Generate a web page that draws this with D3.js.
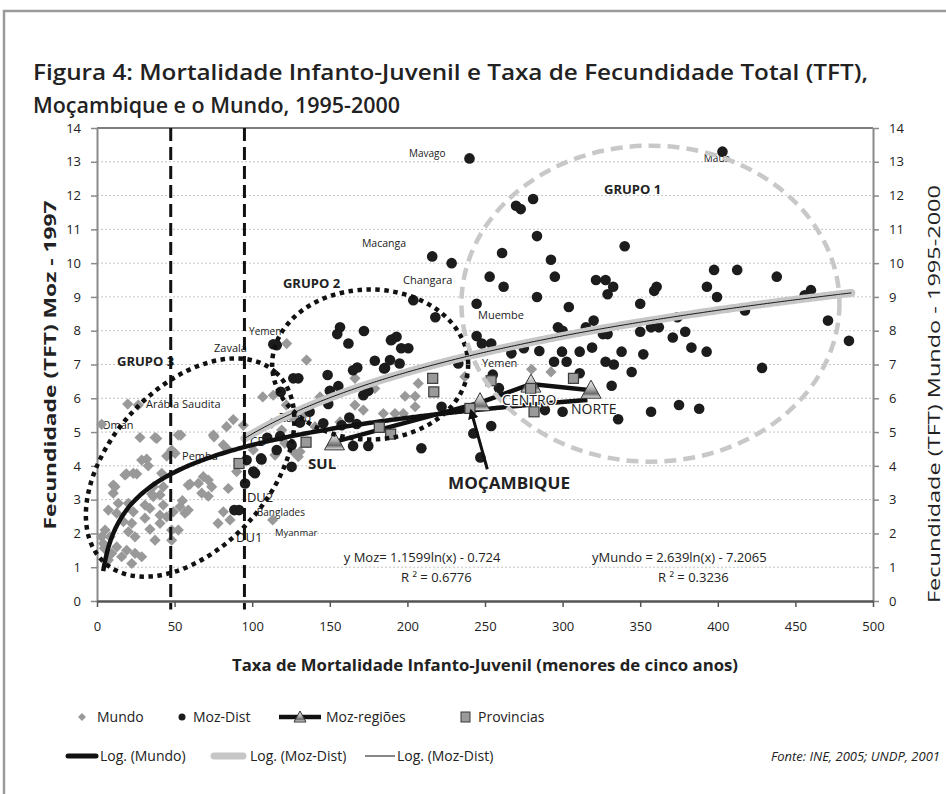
<!DOCTYPE html>
<html>
<head>
<meta charset="utf-8">
<script src="https://cdnjs.cloudflare.com/ajax/libs/d3/7.8.5/d3.min.js"></script>
<style>
body { margin: 0; background: #fff; }
svg text { font-family: "Open Sans", sans-serif; fill: #222; }
</style>
</head>
<body>
<svg id="chart" width="946" height="794"></svg>
<script>
// Mortalidade (x) vs TFT (y)
const mundo = [
  [19.8,5.83],[26.6,5.8],[27.7,4.84],[37.4,4.84],[54,4.91],[75.4,4.86],[83.5,5.16],[87.8,5.37],[81.4,4.62],[106.8,6.04],
  [28.8,4.17],[32,4.2],[33,4.0],[44.9,4.29],[50.3,4.37],[19,3.76],[25.6,3.76],[41.7,3.78],[10.5,3.43],[10.5,3.19],
  [35.2,3.17],[40.6,3.14],[60,3.46],[67.5,3.19],[71.7,3.58],[73.9,3.38],[71.7,3.1],[55,2.97],[56.7,2.6],[7.3,2.69],
  [13.7,2.89],[20.2,2.89],[12.7,2.6],[23.4,2.64],[30.9,2.84],[34.1,2.74],[42.7,2.84],[40.6,2.54],[44.9,2.49],[49.2,2.64],
  [30.9,2.45],[17,2.35],[22.4,2.3],[5.2,2.1],[8.4,1.9],[20.2,2.05],[24.5,1.9],[34.1,2.12],[37.4,1.8],[40.6,2.3],
  [48.1,1.8],[4.1,1.7],[12.7,1.6],[19.1,1.5],[24.5,1.41],[28.8,1.31],[15.9,1.31],[9.5,1.41],[7.3,1.21],[22.4,1.11],
  [4.7,1.56],[3,1.9],[48.1,2.1],[52.4,2.1],[58.8,2.69],[81.4,2.64],[85.7,2.4],[78,2.3],[48.1,4.47],[42.7,3.38],[36.3,3.38],
  [38.5,4.81],[52.4,4.91],[47,4.37],[75,4.91],[68.5,3.68],[65.3,3.48],[58.8,3.43],[18,3.73],[23.4,3.78],[11.6,3.38],
  [36.3,3.09],[53.5,2.79],[90,3.83],[84.6,3.33],[113.2,2.4],[113.6,6.09],[122,5.8],[127.6,5.55],[112.6,5.26],[119,5.06],
  [130.8,4.42],[121,4.67],[114.7,4.32],[83.5,4.52],[122.2,7.62],[135,7.13],[126.5,5.4],[134,5.55],[143.7,6.04],[156.6,5.3],
  [140.5,5.16],[126.5,4.42],[129.7,4.27],[166.2,6.59],[166.2,5.8],[171.6,5.65],[179,6.29],[184.5,5.55],[192,5.55],[197.4,5.55],
  [198.5,6.06],[205,6.06],[207,6.44],[205,5.75],[94.3,5.2],[100.7,4.47],[280,6.86],[292.5,6.78],[237,6.64],[3,5.23]
];

const mozDist = [
  [240,13.1],[403,13.3],
  [281,11.9],[270,11.7],[273,11.6],[283.5,10.8],[340,10.5],
  [261,10.3],[216,10.2],[228.5,10.0],[292.5,10.1],
  [253,9.6],[262,9.3],[295,9.6],[321.5,9.5],[327.7,9.5],[332.6,9.3],[329,9.08],
  [397.6,9.8],[412.5,9.8],[438,9.6],[393,9.3],[399.5,9.0],[360.6,9.3],[359,9.18],[350,8.8],
  [460,9.2],[456,9.05],[471,8.3],[484.5,7.7],[417.5,8.6],[374,8.4],
  [329,7.9],[350,7.97],[357,8.1],[362,8.1],[371,7.8],[379,7.97],[383,7.5],[392.8,7.38],
  [338,7.38],[352,7.3],[327.7,7.08],[333,7.0],[344.5,6.78],[428.5,6.9],[331.6,6.37],
  [335.8,5.38],[357,5.6],[375,5.8],[388,5.69],
  [283.5,9.0],[244.6,8.8],[304,8.7],[297,8.1],[300,8.0],[315,8.1],[320,8.3],[326,7.9],
  [244.6,7.84],[248,7.62],[254,7.62],[267,7.33],[275,7.48],[285,7.4],[299.6,7.38],[311,7.38],[319,7.5],
  [294.5,7.08],[302.6,7.08],[311,6.74],[255,6.7],[259,6.3],[288.6,5.65],[300,5.6],[254,5.18],[222,5.75],[218,8.4],
  [242.5,4.96],[247,4.25],
  [203.8,8.9],[190,7.74],[193,7.82],[196,7.48],[200.6,7.48],[185.6,6.9],[188.8,7.13],[195,7.03],[232.8,7.03],
  [156.6,8.1],[154.8,7.9],[172,7.99],[162,7.62],[189.4,7.72],[113.6,7.6],[115.8,7.57],
  [126.5,6.59],[129.7,6.59],[118.4,6.19],[150,6.22],[155.5,6.36],[165,6.83],[167.7,6.91],[179,7.11],[185,6.88],
  [171.6,6.09],[174.8,6.22],[149,5.83],[162.6,5.43],[157.6,5.2],[167.3,5.24],[145.8,5.26],[130.8,5.28],[137,5.6],
  [118,4.88],[125.4,4.62],[109.7,4.83],[106,4.19],[115.8,4.47],[125.4,3.97],[100.7,3.83],[96.4,4.17],[95.4,3.48],
  [165,4.59],[174.8,4.59],[209,4.52],[148.6,6.69],[101.8,3.78],[88.5,2.69],[91.5,2.69],[105.7,4.22]
];

const provincias = [
  [216.3,6.59],[217,6.19],[253.9,6.52],[279.4,6.29],[307,6.59],[281.6,5.6],[240.3,5.7],
  [181.9,5.14],[189.2,4.94],[134.7,4.7],[91.5,4.07]
];

const regioes = [
  {name: 'SUL', x: 153, y: 4.71},
  {name: 'MOÇAMBIQUE', x: 246.8, y: 5.87},
  {name: 'CENTRO', x: 279.6, y: 6.42},
  {name: 'NORTE', x: 318.3, y: 6.24}
];

// log trendlines (coefficients as printed on the chart)
const fitMundo = {a: 1.1599, b: -0.724, from: 4, to: 316};
const fitMozDist = {a: 2.639, b: -7.2065, from: 95, to: 486};

const xTicks = d3.range(0, 501, 50);
const yTicks = d3.range(0, 15);
const cutoffs = [47.5, 95];

const groups = [
  {name: 'GRUPO 3', cx: 60, cy: 3.95, rx: 128, ry: 80, rot: -48, color: '#111', dash: '4.5,4.5'},
  {name: 'GRUPO 2', cx: 176, cy: 7.0, rx: 98, ry: 75, rot: 0, color: '#111', dash: '4.5,4.5'},
  {name: 'GRUPO 1', cx: 356.6, cy: 8.8, rx: 189, ry: 158, rot: 0, color: '#c8c8c8', dash: '12,7'}
];

const labels = [
  {t: 'Mavago', x: 201, y: 13.14, s: 10},
  {t: 'Maua', x: 391, y: 13.0, s: 10},
  {t: 'Macanga', x: 170.7, y: 10.47, s: 10.5},
  {t: 'Changara', x: 197.2, y: 9.38, s: 11},
  {t: 'Muembe', x: 245.5, y: 8.34, s: 11},
  {t: 'Yemen', x: 98, y: 7.87, s: 10},
  {t: 'Yemen', x: 248, y: 6.92, s: 11},
  {t: 'Zavala', x: 75.4, y: 7.37, s: 11},
  {t: 'Arábia Saudita', x: 31.6, y: 5.71, s: 11},
  {t: 'Oman', x: 3.2, y: 5.09, s: 11},
  {t: 'Pemba', x: 54.8, y: 4.17, s: 11},
  {t: 'Zamb', x: 117.3, y: 5.3, s: 12},
  {t: 'CD', x: 98.6, y: 4.59, s: 12},
  {t: 'DU2', x: 96.6, y: 2.93, s: 13},
  {t: 'Banglades', x: 103, y: 2.51, s: 10},
  {t: 'DU1', x: 89.6, y: 1.75, s: 13},
  {t: 'Myanmar', x: 114.7, y: 1.92, s: 9.5},
  {t: 'GRUPO 3', x: 12.9, y: 6.95, s: 13, b: true},
  {t: 'GRUPO 2', x: 119.8, y: 9.26, s: 13, b: true},
  {t: 'GRUPO 1', x: 326.7, y: 12.04, s: 13, b: true}
];

const svg = d3.select('#chart');

// outer frame
svg.append('rect')
  .attr('x', 4).attr('y', 11)
  .attr('width', 960).attr('height', 800)
  .attr('fill', 'none')
  .attr('stroke', '#9a9a9a')
  .attr('stroke-width', 2.5);

svg.append('text')
  .attr('x', 33).attr('y', 80)
  .attr('textLength', 835).attr('lengthAdjust', 'spacingAndGlyphs')
  .style('font-size', '22px').style('font-weight', 600)
  .text('Figura 4: Mortalidade Infanto-Juvenil e Taxa de Fecundidade Total (TFT),');
svg.append('text')
  .attr('x', 33).attr('y', 113)
  .attr('textLength', 367).attr('lengthAdjust', 'spacingAndGlyphs')
  .style('font-size', '22px').style('font-weight', 600)
  .text('Moçambique e o Mundo, 1995-2000');

const x = d3.scaleLinear().domain([0, 500]).range([97, 873]);
const y = d3.scaleLinear().domain([0, 14]).range([601, 128]);

// gridlines
svg.append('g').selectAll('line')
  .data(yTicks.filter(v => v > 0 && v < 14))
  .join('line')
  .attr('x1', x(0)).attr('x2', x(500))
  .attr('y1', d => y(d)).attr('y2', d => y(d))
  .attr('stroke', '#c4c4c4')
  .attr('stroke-dasharray', '2,2');

svg.append('line')
  .attr('x1', x(0)).attr('x2', x(500))
  .attr('y1', y(14)).attr('y2', y(14))
  .attr('stroke', '#555').attr('stroke-width', 1.5);

function styleAxis(g, color, w) {
  g.select('.domain').attr('stroke', color).attr('stroke-width', w);
  g.selectAll('.tick line').attr('stroke', color).attr('stroke-width', 1.5);
  g.selectAll('.tick text').style('font-size', '13px').attr('fill', '#222');
}

svg.append('g')
  .attr('transform', `translate(${x(0)},0)`)
  .call(d3.axisLeft(y).tickValues(yTicks).tickSize(6).tickPadding(10).tickSizeOuter(0))
  .call(g => styleAxis(g, '#8a8a8a', 2));

svg.append('g')
  .attr('transform', `translate(${x(500)},0)`)
  .call(d3.axisRight(y).tickValues(yTicks).tickSize(6).tickPadding(10).tickSizeOuter(0))
  .call(g => styleAxis(g, '#8a8a8a', 2));

svg.append('g')
  .attr('transform', `translate(0,${y(0)})`)
  .call(d3.axisBottom(x).tickValues(xTicks).tickSize(6).tickPadding(15).tickSizeOuter(0))
  .call(g => styleAxis(g, '#555', 2.5));

// axis titles
svg.append('text')
  .attr('transform', 'translate(56,365) rotate(-90)')
  .attr('text-anchor', 'middle')
  .attr('textLength', 329).attr('lengthAdjust', 'spacingAndGlyphs')
  .style('font-size', '16px').style('font-weight', 'bold')
  .text('Fecundidade (TFT) Moz - 1997');
svg.append('text')
  .attr('transform', 'translate(940,394) rotate(-90)')
  .attr('text-anchor', 'middle')
  .attr('textLength', 418).attr('lengthAdjust', 'spacingAndGlyphs')
  .style('font-size', '16.5px')
  .text('Fecundidade (TFT) Mundo - 1995-2000');
svg.append('text')
  .attr('x', 485).attr('y', 671)
  .attr('text-anchor', 'middle')
  .attr('textLength', 506).attr('lengthAdjust', 'spacingAndGlyphs')
  .style('font-size', '16px').style('font-weight', 'bold')
  .text('Taxa de Mortalidade Infanto-Juvenil (menores de cinco anos)');

const defs = svg.append('defs');
const grad = defs.append('linearGradient')
  .attr('id', 'tri').attr('x1', 0).attr('y1', 0).attr('x2', 0).attr('y2', 1);
grad.append('stop').attr('offset', '0%').attr('stop-color', '#f4f4f4');
grad.append('stop').attr('offset', '45%').attr('stop-color', '#b8b8b8');
grad.append('stop').attr('offset', '75%').attr('stop-color', '#6a6a6a');
grad.append('stop').attr('offset', '100%').attr('stop-color', '#eee');
defs.append('marker')
  .attr('id', 'arrow').attr('viewBox', '0 0 10 10')
  .attr('refX', 5).attr('refY', 5)
  .attr('markerWidth', 3.5).attr('markerHeight', 3.5)
  .attr('orient', 'auto-start-reverse')
  .append('path').attr('d', 'M0,0 L10,5 L0,10 Z').attr('fill', '#111');

const diamond = 'M0,-5.6 L5.6,0 L0,5.6 L-5.6,0 Z';
const triangle = 'M0,-10 L10,8 L-10,8 Z';

// data labels (drawn under the series, like Excel)
svg.append('g').selectAll('text')
  .data(labels)
  .join('text')
  .attr('x', d => x(d.x)).attr('y', d => y(d.y))
  .style('font-size', d => d.s + 'px')
  .style('font-weight', d => d.b ? 'bold' : 'normal')
  .attr('fill', d => d.b ? '#222' : '#333')
  .text(d => d.t);

svg.append('g').selectAll('path')
  .data(mundo)
  .join('path')
  .attr('d', diamond)
  .attr('transform', d => `translate(${x(d[0])},${y(d[1])})`)
  .attr('fill', '#999');

svg.append('g').selectAll('circle')
  .data(mozDist)
  .join('circle')
  .attr('cx', d => x(d[0])).attr('cy', d => y(d[1]))
  .attr('r', 5.3)
  .attr('fill', '#1c1c1c');

// trendlines
const logLine = fit => d3.line()
  .x(v => x(v)).y(v => y(fit.a * Math.log(v) + fit.b))
  (d3.range(fit.from, fit.to, 1).concat([fit.to]));

svg.append('path').attr('d', logLine(fitMozDist))
  .attr('fill', 'none').attr('stroke', '#c6c6c6').attr('stroke-width', 8).attr('stroke-linecap', 'round');
svg.append('path').attr('d', logLine(fitMozDist))
  .attr('fill', 'none').attr('stroke', '#111').attr('stroke-width', 1);
svg.append('path').attr('d', logLine(fitMundo))
  .attr('fill', 'none').attr('stroke', '#111').attr('stroke-width', 4.5);

// Moz-regiões
svg.append('path')
  .attr('d', d3.line().x(d => x(d.x)).y(d => y(d.y))(regioes))
  .attr('fill', 'none').attr('stroke', '#111').attr('stroke-width', 4.5);
svg.append('g').selectAll('path')
  .data(regioes)
  .join('path')
  .attr('d', triangle)
  .attr('transform', d => `translate(${x(d.x)},${y(d.y)})`)
  .attr('fill', 'url(#tri)').attr('stroke', '#333').attr('stroke-width', 1);

svg.append('g').selectAll('rect')
  .data(provincias)
  .join('rect')
  .attr('x', d => x(d[0]) - 5).attr('y', d => y(d[1]) - 5)
  .attr('width', 10).attr('height', 10)
  .attr('fill', '#9a9a9a').attr('stroke', '#3a3a3a').attr('stroke-width', 1.2);

// group ellipses and cut-off lines
svg.append('g').selectAll('ellipse')
  .data(groups)
  .join('ellipse')
  .attr('transform', d => `translate(${x(d.cx)},${y(d.cy)}) rotate(${d.rot})`)
  .attr('rx', d => d.rx).attr('ry', d => d.ry)
  .attr('fill', 'none')
  .attr('stroke', d => d.color)
  .attr('stroke-width', 4.5)
  .attr('stroke-dasharray', d => d.dash);

svg.append('g').selectAll('line')
  .data(cutoffs)
  .join('line')
  .attr('x1', d => x(d)).attr('x2', d => x(d))
  .attr('y1', y(14)).attr('y2', y(-0.25))
  .attr('stroke', '#111').attr('stroke-width', 3)
  .attr('stroke-dasharray', '13,6');

// region labels
svg.append('text').attr('x', x(136)).attr('y', y(3.9))
  .style('font-size', '15px').style('font-weight', 'bold').text('SUL');
svg.append('text').attr('x', x(261)).attr('y', y(5.8))
  .style('font-size', '14px').style('paint-order', 'stroke')
  .attr('fill', '#222').attr('stroke', '#fff').attr('stroke-width', 2.5)
  .text('CENTRO');
svg.append('text').attr('x', x(305.4)).attr('y', y(5.53))
  .style('font-size', '14px').text('NORTE');
svg.append('text').attr('x', x(226.2)).attr('y', y(3.31))
  .attr('textLength', 122).attr('lengthAdjust', 'spacingAndGlyphs')
  .style('font-size', '16px').style('font-weight', 'bold').text('MOÇAMBIQUE');
svg.append('line')
  .attr('x1', x(251.5)).attr('y1', y(3.9))
  .attr('x2', x(241.5)).attr('y2', y(5.55))
  .attr('stroke', '#111').attr('stroke-width', 3)
  .attr('marker-end', 'url(#arrow)');

// equations
const eq = [
  {t: 'y Moz= 1.1599ln(x) - 0.724', x: 159, y: 1.15},
  {t: 'R ² = 0.6776', x: 195.9, y: 0.56},
  {t: 'yMundo = 2.639ln(x) - 7.2065', x: 319, y: 1.15},
  {t: 'R ² = 0.3236', x: 361.5, y: 0.56}
];
svg.append('g').selectAll('text')
  .data(eq)
  .join('text')
  .attr('x', d => x(d.x)).attr('y', d => y(d.y))
  .style('font-size', '13px')
  .text(d => d.t);

// legend
const lg = svg.append('g').style('font-size', '14px');
lg.append('path').attr('d', 'M0,-4 L4,0 L0,4 L-4,0 Z').attr('transform', 'translate(82,717)').attr('fill', '#999');
lg.append('text').attr('x', 97).attr('y', 722).text('Mundo');
lg.append('circle').attr('cx', 182).attr('cy', 717).attr('r', 3.5).attr('fill', '#1c1c1c');
lg.append('text').attr('x', 193).attr('y', 722).text('Moz-Dist');
lg.append('line').attr('x1', 279).attr('x2', 321).attr('y1', 717).attr('y2', 717).attr('stroke', '#111').attr('stroke-width', 4.5);
lg.append('path').attr('d', 'M0,-6 L6,5 L-6,5 Z').attr('transform', 'translate(300,717)')
  .attr('fill', 'url(#tri)').attr('stroke', '#333');
lg.append('text').attr('x', 326).attr('y', 722).text('Moz-regiões');
lg.append('rect').attr('x', 461).attr('y', 712).attr('width', 9).attr('height', 10)
  .attr('fill', '#9a9a9a').attr('stroke', '#3a3a3a');
lg.append('text').attr('x', 478).attr('y', 722).text('Provincias');

lg.append('line').attr('x1', 68).attr('x2', 96).attr('y1', 756).attr('y2', 756)
  .attr('stroke', '#111').attr('stroke-width', 5).attr('stroke-linecap', 'round');
lg.append('text').attr('x', 100).attr('y', 761).text('Log. (Mundo)');
lg.append('line').attr('x1', 214).attr('x2', 243).attr('y1', 756).attr('y2', 756)
  .attr('stroke', '#c6c6c6').attr('stroke-width', 7).attr('stroke-linecap', 'round');
lg.append('text').attr('x', 250).attr('y', 761).text('Log. (Moz-Dist)');
lg.append('line').attr('x1', 365).attr('x2', 395).attr('y1', 756).attr('y2', 756)
  .attr('stroke', '#111').attr('stroke-width', 1);
lg.append('text').attr('x', 397).attr('y', 761).text('Log. (Moz-Dist)');
lg.append('text').attr('x', 940).attr('y', 761).attr('text-anchor', 'end')
  .style('font-style', 'italic').style('font-size', '13px')
  .text('Fonte: INE, 2005; UNDP, 2001');
</script>
</body>
</html>
